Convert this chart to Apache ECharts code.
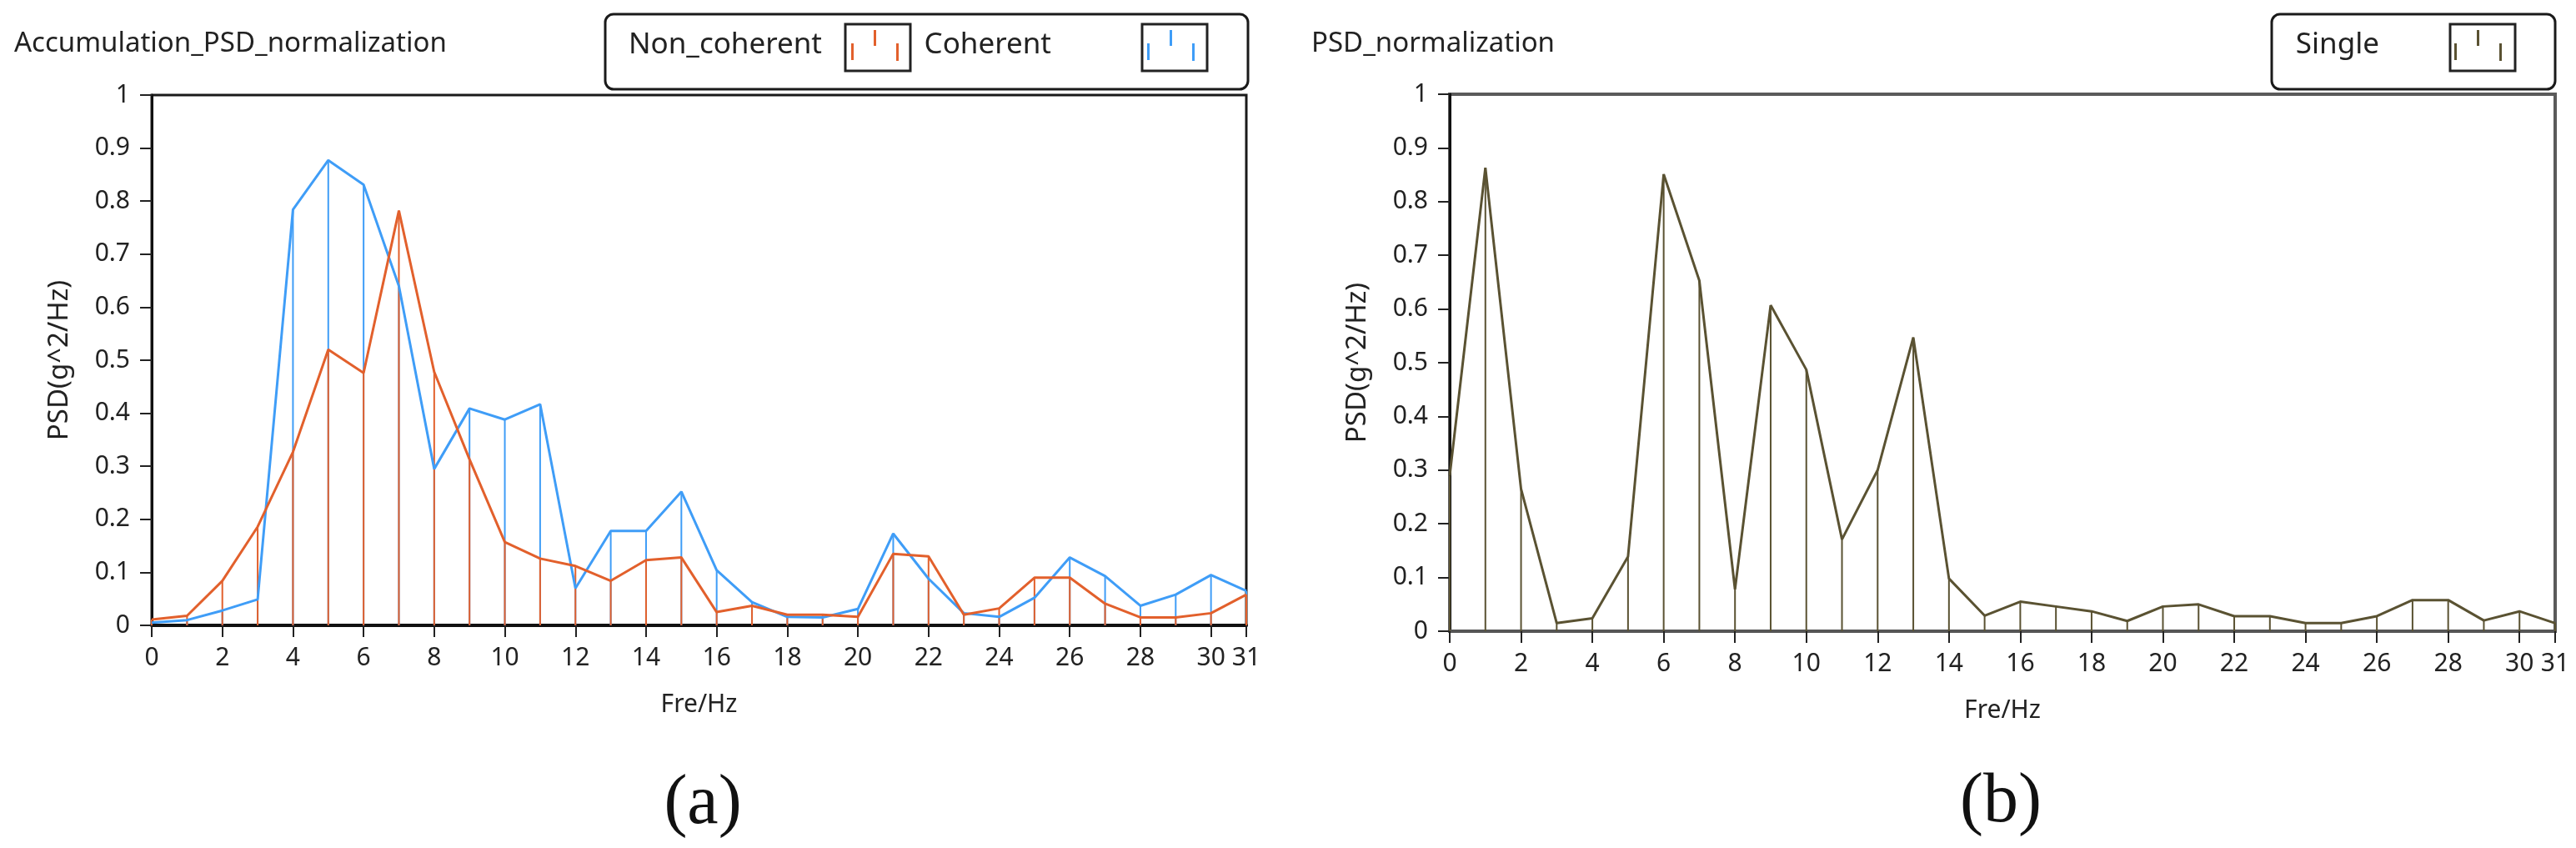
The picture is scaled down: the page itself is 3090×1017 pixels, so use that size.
<!DOCTYPE html>
<html>
<head>
<meta charset="utf-8">
<script src="https://cdn.jsdelivr.net/npm/echarts@6/dist/echarts.min.js"></script>
<style>
html,body{margin:0;padding:0;background:#fff;}
#c{width:3090px;height:1017px;}
</style>
</head>
<body>
<div id="c"></div>
<script>
// ---- data ----
const freqs = [0,1,2,3,4,5,6,7,8,9,10,11,12,13,14,15,16,17,18,19,20,21,22,23,24,25,26,27,28,29,30,31];
const nonCoherent = [0.011,0.018,0.084,0.186,0.327,0.52,0.476,0.782,0.478,0.313,0.157,0.126,0.112,0.084,0.123,0.128,0.025,0.037,0.02,0.02,0.016,0.135,0.13,0.02,0.032,0.09,0.09,0.041,0.015,0.015,0.023,0.058];
const coherent    = [0.005,0.01,0.028,0.049,0.784,0.877,0.831,0.64,0.295,0.409,0.388,0.417,0.07,0.178,0.178,0.252,0.104,0.044,0.016,0.015,0.031,0.173,0.088,0.023,0.016,0.052,0.128,0.093,0.037,0.058,0.095,0.065];
const single      = [0.29,0.863,0.265,0.015,0.024,0.139,0.851,0.653,0.078,0.607,0.487,0.171,0.3,0.547,0.098,0.029,0.055,0.046,0.037,0.019,0.046,0.05,0.028,0.028,0.015,0.015,0.028,0.058,0.058,0.02,0.037,0.015];
const titleA = 'Accumulation_PSD_normalization';
const titleB = 'PSD_normalization';
const yName = 'PSD(g^2/Hz)';
const xName = 'Fre/Hz';

const C_NON = '#E2602C';
const C_COH = '#3F9DF7';
const C_SIN = '#5A5232';
const FONT = 'Noto Sans';

const pairs = v => freqs.map((f, i) => [f, v[i]]);
const iconPath = 'path://M0,16h3v20h-3z M27,0h3v19h-3z M54,16h3v21h-3z';

function dropSeries(name, values, color, gi) {
  return {
    type: 'custom', name: name, xAxisIndex: gi, yAxisIndex: gi,
    data: pairs(values), encode: {x: 0, y: 1}, itemStyle: {color: color},
    renderItem: function (params, api) {
      const p0 = api.coord([api.value(0), 0]);
      const p1 = api.coord([api.value(0), api.value(1)]);
      return {type: 'line', shape: {x1: p0[0], y1: p0[1], x2: p1[0], y2: p1[1]},
        style: {stroke: color, lineWidth: 2}};
    }
  };
}
function lineSeries(name, values, color, gi) {
  return {type: 'line', name: name, xAxisIndex: gi, yAxisIndex: gi, data: pairs(values),
    symbol: 'none', lineStyle: {color: color, width: 3}, itemStyle: {color: color}};
}
function xAx(gi, lineColor) {
  return {type: 'value', gridIndex: gi, min: 0, max: 31, interval: 2,
    name: xName, nameLocation: 'middle', nameGap: 80,
    nameTextStyle: {fontFamily: FONT, fontSize: 30, color: '#222'},
    axisLine: {show: true, onZero: false, lineStyle: {color: lineColor, width: 4}},
    axisTick: {show: true, length: 14, lineStyle: {color: '#222', width: 2}},
    axisLabel: {fontFamily: FONT, fontSize: 30, color: '#222', margin: 24, showMinLabel: true, showMaxLabel: true},
    splitLine: {show: false}};
}
function yAx(gi, lineColor) {
  return {type: 'value', gridIndex: gi, min: 0, max: 1, interval: 0.1,
    name: yName, nameLocation: 'middle', nameGap: 94, nameRotate: 90,
    nameTextStyle: {fontFamily: FONT, fontSize: 33, color: '#222'},
    axisLine: {show: true, lineStyle: {color: lineColor, width: 3}},
    axisTick: {show: true, length: 14, lineStyle: {color: '#222', width: 2}},
    axisLabel: {fontFamily: FONT, fontSize: 30, color: '#222', margin: 26},
    splitLine: {show: false}};
}
function legendBox(x, y, w, h) {
  return {type: 'rect', shape: {x: x, y: y, width: w, height: h, r: 10}, z: 0,
    style: {fill: '#fff', stroke: '#1a1a1a', lineWidth: 3}};
}
function iconBox(x) {
  return {type: 'rect', shape: {x: x, y: 29, width: 78, height: 56}, z: 1,
    style: {fill: 'none', stroke: '#222', lineWidth: 3}};
}
function legendItem(name, right, gap) {
  return {data: [name], right: right, top: 36, padding: 0, align: 'right', icon: iconPath,
    itemWidth: 57, itemHeight: 37, selectedMode: false,
    textStyle: {fontFamily: FONT, fontSize: 35, color: '#222', padding: [0, gap, 0, 0]}};
}

const chart = echarts.init(document.getElementById('c'));
chart.setOption({
  backgroundColor: '#fff',
  animation: false,
  title: [
    {text: titleA, left: 12, top: 31, textStyle: {fontFamily: FONT, fontSize: 33, fontWeight: 'normal', color: '#222'}},
    {text: titleB, left: 1568, top: 31, textStyle: {fontFamily: FONT, fontSize: 33, fontWeight: 'normal', color: '#222'}},
    {text: '(a)', left: 838, top: 960, textAlign: 'center', textVerticalAlign: 'middle',
      textStyle: {fontFamily: 'Liberation Serif', fontSize: 84, fontWeight: 'normal', color: '#111'}},
    {text: '(b)', left: 2395, top: 958, textAlign: 'center', textVerticalAlign: 'middle',
      textStyle: {fontFamily: 'Liberation Serif', fontSize: 84, fontWeight: 'normal', color: '#111'}}
  ],
  legend: [
    legendItem('Non_coherent', 2012, 30),
    legendItem('Coherent', 1657, 110),
    legendItem('Single', 89, 85)
  ],
  graphic: [
    legendBox(726, 17, 771, 90), iconBox(1014), iconBox(1370),
    legendBox(2725, 17, 340, 90), iconBox(2939)
  ],
  grid: [
    {left: 182, top: 114, width: 1313, height: 636, show: true, borderColor: '#1a1a1a', borderWidth: 3, backgroundColor: '#fff'},
    {left: 1739, top: 113, width: 1326, height: 644, show: true, borderColor: '#5a5a5a', borderWidth: 4, backgroundColor: '#fff'}
  ],
  xAxis: [xAx(0, '#111'), xAx(1, '#555')],
  yAxis: [yAx(0, '#111'), yAx(1, '#111')],
  series: [
    lineSeries('Coherent', coherent, C_COH, 0),
    dropSeries('Coherent', coherent, C_COH, 0),
    lineSeries('Non_coherent', nonCoherent, C_NON, 0),
    dropSeries('Non_coherent', nonCoherent, C_NON, 0),
    lineSeries('Single', single, C_SIN, 1),
    dropSeries('Single', single, C_SIN, 1)
  ]
});
</script>
</body>
</html>
